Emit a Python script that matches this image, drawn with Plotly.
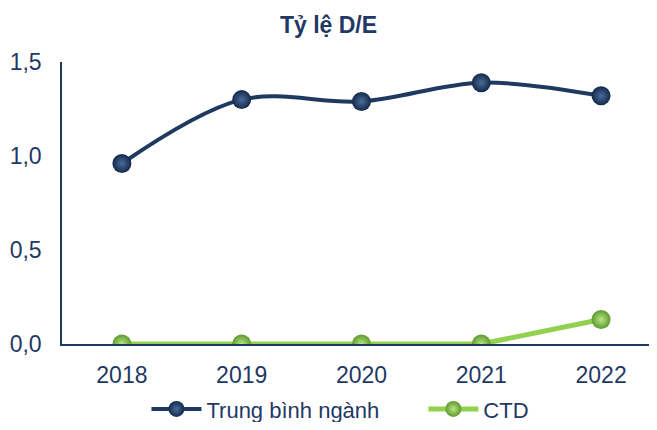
import plotly.graph_objects as go

years = ["2018", "2019", "2020", "2021", "2022"]
trung_binh_nganh = [0.96, 1.30, 1.29, 1.39, 1.32]
ctd = [0.0, 0.0, 0.0, 0.0, 0.13]
y_ticks = [0, 0.5, 1.0, 1.5]
y_tick_labels = ["0,0", "0,5", "1,0", "1,5"]

navy = "#1F3A60"
green = "#92D050"
text_color = "#1F3864"
font_family = "Liberation Sans, Arial, sans-serif"

fig = go.Figure()

# radial gradient: gradient.color is the centre, marker.color the rim
fig.add_trace(go.Scatter(
    x=years,
    y=trung_binh_nganh,
    name="Trung bình ngành",
    legend="legend",
    mode="lines+markers",
    line=dict(color=navy, width=4, shape="spline", smoothing=1),
    marker=dict(
        size=19,
        color="#14294A",
        gradient=dict(type="radial", color="#4A6C9A"),
        line=dict(width=0),
    ),
))

fig.add_trace(go.Scatter(
    x=years,
    y=ctd,
    name="CTD",
    legend="legend2",
    mode="lines+markers",
    line=dict(color=green, width=5),
    marker=dict(
        size=19,
        color="#5E9A2E",
        gradient=dict(type="radial", color="#B8E684"),
        line=dict(width=0),
    ),
))

# one legend per series so the gap between the two entries can match
legend_style = dict(
    orientation="h",
    xanchor="left",
    xref="container",
    y=0.031,
    yanchor="middle",
    yref="container",
    itemwidth=50,
    bgcolor="rgba(0,0,0,0)",
    font=dict(size=22, color=text_color),
)

# page body adds an 8px margin, so the figure is sized to fit inside the window
fig.update_layout(
    width=641,
    height=414,
    margin=dict(l=54, r=0, t=54, b=78, autoexpand=False),
    showlegend=True,
    paper_bgcolor="white",
    plot_bgcolor="white",
    font=dict(family=font_family, size=22, color=text_color),
    title=dict(
        text="<b>Tỷ lệ D/E</b>",
        x=0.5,
        xanchor="center",
        xref="container",
        y=0.959,
        yanchor="middle",
        yref="container",
        font=dict(size=23, color=text_color),
    ),
    xaxis=dict(
        type="category",
        range=[-0.5, 4.4],
        showgrid=False,
        showline=True,
        linecolor=navy,
        linewidth=1.5,
        ticks="",
        ticklabelstandoff=10,
        tickfont=dict(size=23, color=text_color),
    ),
    yaxis=dict(
        range=[0, 1.5],
        tickvals=y_ticks,
        ticktext=y_tick_labels,
        showgrid=False,
        zeroline=False,
        showline=True,
        linecolor=navy,
        linewidth=1.5,
        ticks="",
        ticklabelstandoff=14,
        tickfont=dict(size=23, color=text_color),
    ),
    legend=dict(legend_style, x=0.216),
    legend2=dict(legend_style, x=0.648),
)

fig.write_html("out.html")
